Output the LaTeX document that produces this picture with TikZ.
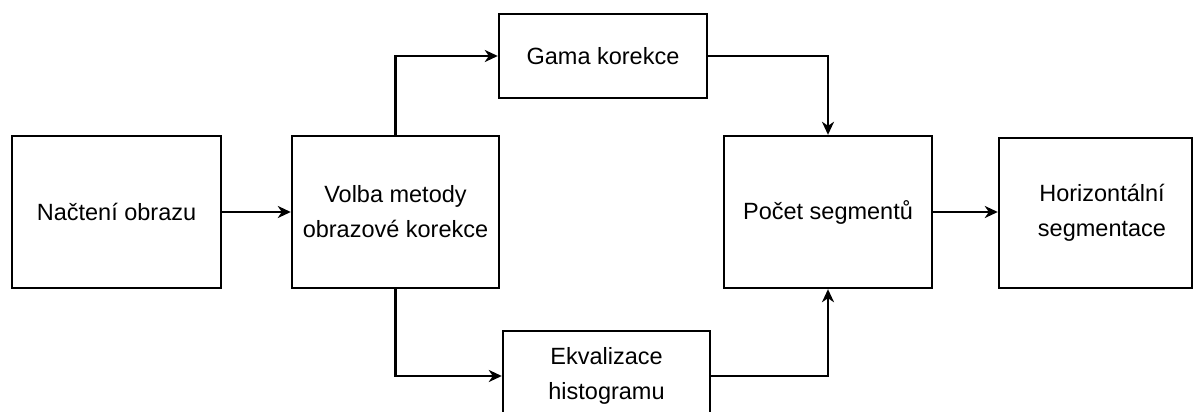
\documentclass[tikz,border=0pt]{standalone}
\usepackage{fontspec}
\setmainfont{Liberation Sans}
\usetikzlibrary{arrows.meta}
\begin{document}
\begin{tikzpicture}[x=1pt,y=-1pt,
  box/.style={draw, line width=2.4pt, rectangle, inner sep=0pt, align=center,
    font=\fontsize{23.5}{35}\selectfont},
  lbl/.style={inner sep=0pt, align=center, font=\fontsize{23.5}{35}\selectfont},
  arr/.style={-{Stealth[length=13pt,width=12pt,inset=4pt]}, line width=2.4pt}]
\useasboundingbox (0,0) rectangle (1195,412);
\node[box, minimum width=209, minimum height=152] (a) at (116.5,212) {Načtení obrazu};
\node[box, minimum width=207, minimum height=152] (b) at (395.5,212) {Volba metody\\obrazové korekce};
\node[box, minimum width=208, minimum height=84] (g) at (603,56) {Gama korekce};
\node[box, minimum width=207, minimum height=90] (e) at (606.5,376) {Ekvalizace\\histogramu};
\node[box, minimum width=208, minimum height=152] (p) at (828,212) {Počet segmentů};
\node[box, minimum width=193, minimum height=150] (h) at (1095.5,213) {};
\node[lbl] (ht) at (1102,213) {Horizontální\\segmentace};
\draw[arr] (a.east) -- (b.west);
\draw[arr] (b.north) |- (g.west);
\draw[arr] (g.east) -| (p.north);
\draw[arr] (b.south) |- (e.west);
\draw[arr] (e.east) -| (p.south);
\draw[arr] (p.east) -- (p.east -| h.west);
\end{tikzpicture}
\end{document}
